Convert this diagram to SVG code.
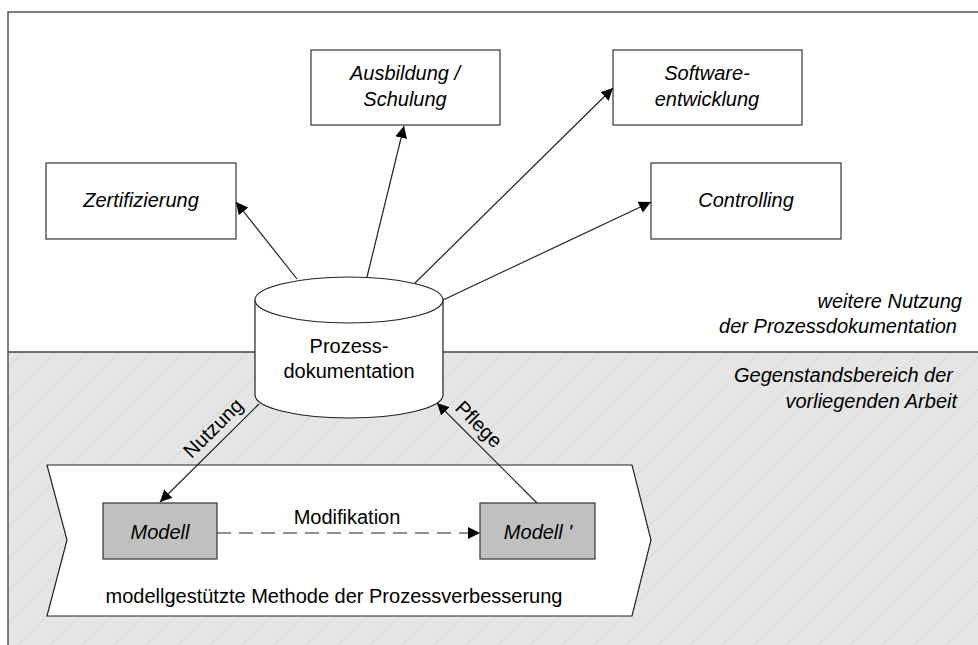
<svg xmlns="http://www.w3.org/2000/svg" width="978" height="645" viewBox="0 0 978 645">
<defs>
<style>
.box{fill:#fff;stroke:#333;stroke-width:1.2}
.model{fill:#c0c0c0;stroke:#333;stroke-width:1.2}
.t{font-family:"Liberation Sans",Arial,sans-serif;font-size:20px;fill:#000}
.i{font-style:italic}
.c{text-anchor:middle}
.e{text-anchor:end}
.conn{fill:none;stroke:#222;stroke-width:1.2}
</style>
<marker id="ah" viewBox="0 0 10 10" refX="10" refY="5" markerWidth="12" markerHeight="12" markerUnits="userSpaceOnUse" orient="auto">
<path d="M0,0 L10,5 L0,10 Z" fill="#000"/>
</marker>
<pattern id="hatch" patternUnits="userSpaceOnUse" x="23" y="0" width="32" height="32">
<rect width="32" height="32" fill="#e5e5e5"/>
<path d="M-2,34 L34,-2" stroke="#d2d2d2" stroke-width="1"/>
<path d="M-2,2 L2,-2 M30,34 L34,30" stroke="#d2d2d2" stroke-width="1"/>
</pattern>
</defs>
<rect x="0" y="0" width="978" height="645" fill="#fff"/>
<g id="background">
<rect x="8" y="352" width="990" height="310" fill="url(#hatch)"/>
<line x1="8" y1="352" x2="978" y2="352" stroke="#444" stroke-width="1.5"/>
<rect x="8" y="12" width="990" height="650" fill="none" stroke="#555" stroke-width="1.5"/>
<text class="t i e" x="962" y="308">weitere Nutzung</text>
<text class="t i e" x="957" y="333">der Prozessdokumentation</text>
<text class="t i e" x="953" y="382">Gegenstandsbereich der</text>
<text class="t i e" x="957" y="408">vorliegenden Arbeit</text>
</g>
<g id="method">
<path d="M47,465 L632,465 L651,540 L632,616 L47,616 L67,540 Z" fill="#fff" stroke="#222" stroke-width="1.2"/>
<text class="t c" x="334" y="603">modellgestützte Methode der Prozessverbesserung</text>
</g>
<g id="zertifizierung">
<rect class="box" x="46" y="163" width="190" height="76"/>
<text class="t i c" x="141" y="207">Zertifizierung</text>
</g>
<g id="ausbildung">
<rect class="box" x="311" y="50" width="189" height="75"/>
<text class="t i c" x="405" y="80">Ausbildung /</text>
<text class="t i c" x="405" y="106">Schulung</text>
</g>
<g id="software">
<rect class="box" x="613" y="50" width="189" height="75"/>
<text class="t i c" x="707" y="80">Software-</text>
<text class="t i c" x="707" y="106">entwicklung</text>
</g>
<g id="controlling">
<rect class="box" x="651" y="163" width="190" height="76"/>
<text class="t i c" x="746" y="207">Controlling</text>
</g>
<g id="prozessdokumentation">
<path d="M255,300 L255,395 A94,23 0 0 0 443,395 L443,300" fill="#fff" stroke="#222" stroke-width="1.2"/>
<ellipse cx="349" cy="300" rx="94" ry="23" fill="#fff" stroke="#222" stroke-width="1.2"/>
<text class="t c" x="349" y="353">Prozess-</text>
<text class="t c" x="349" y="378">dokumentation</text>
</g>
<g id="modell">
<rect class="model" x="103" y="503" width="114" height="56"/>
<text class="t i c" x="160" y="539">Modell</text>
</g>
<g id="modell2">
<rect class="model" x="480" y="503" width="115" height="56"/>
<text class="t i c" x="538" y="539">Modell '</text>
</g>
<g id="connectors">
<line class="conn" x1="297" y1="279" x2="236" y2="202" marker-end="url(#ah)"/>
<line class="conn" x1="367" y1="277" x2="404" y2="126" marker-end="url(#ah)"/>
<line class="conn" x1="415" y1="283" x2="613" y2="88" marker-end="url(#ah)"/>
<line class="conn" x1="443" y1="300" x2="651" y2="202" marker-end="url(#ah)"/>
<line class="conn" x1="259" y1="404" x2="160" y2="502" marker-end="url(#ah)"/>
<line class="conn" x1="537" y1="503" x2="437" y2="403" marker-end="url(#ah)"/>
<line class="conn" x1="217" y1="533" x2="480" y2="533" stroke-dasharray="14,8" marker-end="url(#ah)"/>
<text class="t c" x="347" y="524">Modifikation</text>
<text class="t c" transform="translate(213,428) rotate(-45)" x="0" y="7">Nutzung</text>
<text class="t c" transform="translate(479,424) rotate(45)" x="0" y="7">Pflege</text>
</g>
</svg>
